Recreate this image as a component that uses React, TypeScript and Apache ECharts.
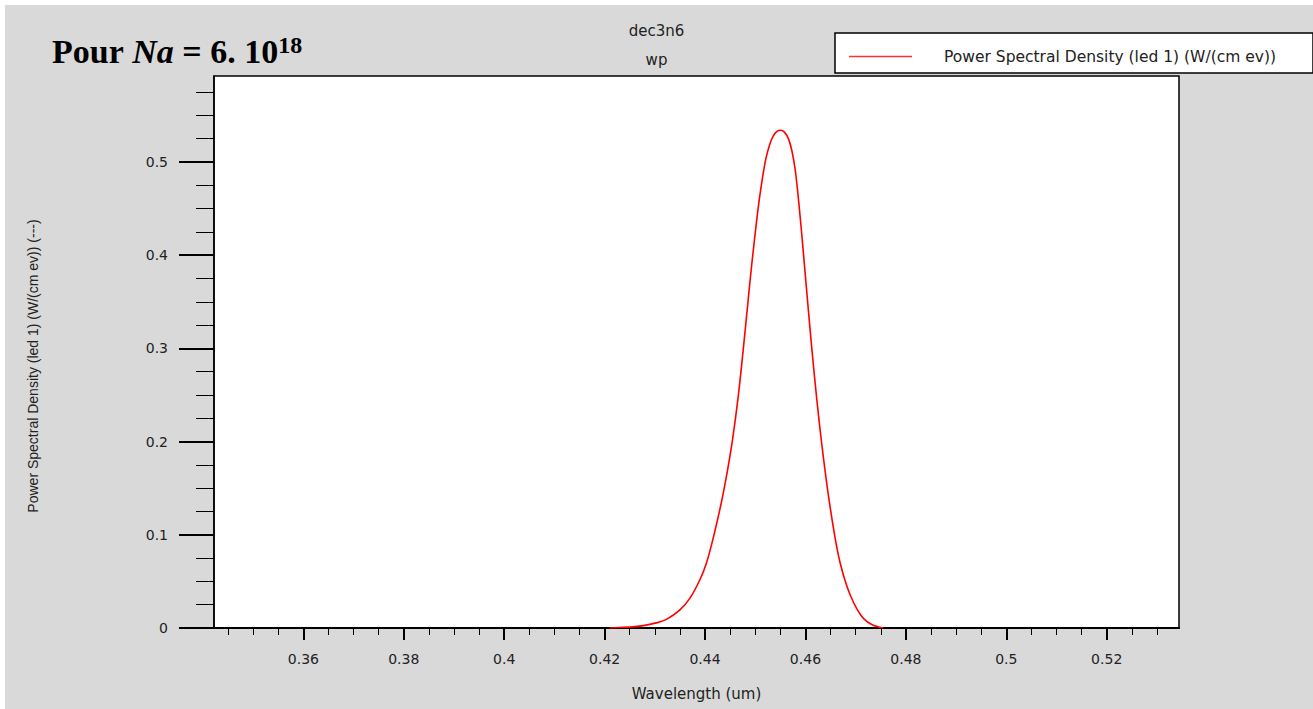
import { useEffect, useRef } from 'react';
import * as echarts from 'echarts';

const wavelength = [
  0.421, 0.423, 0.4257, 0.428, 0.4303, 0.4323, 0.435, 0.437, 0.439, 0.4403,
  0.4417, 0.4433, 0.4445, 0.4455, 0.4466, 0.4475, 0.4485, 0.4493, 0.4505, 0.4513,
  0.4521, 0.4529, 0.4536, 0.4544, 0.4551, 0.4558, 0.4566, 0.4573, 0.458, 0.4587,
  0.4595, 0.4604, 0.4613, 0.4623, 0.4633, 0.4645, 0.4658, 0.4669, 0.4683, 0.4697,
  0.471, 0.4722, 0.4735, 0.475, 0.4755,
];
const psd = [
  0, 0.0005, 0.0012, 0.0028, 0.0055, 0.0092, 0.0195, 0.032, 0.052, 0.07,
  0.098, 0.136, 0.17, 0.203, 0.248, 0.293, 0.347, 0.39, 0.447, 0.478,
  0.503, 0.519, 0.528, 0.533, 0.534, 0.532, 0.525, 0.512, 0.49, 0.455,
  0.408, 0.352, 0.298, 0.243, 0.195, 0.145, 0.1, 0.07, 0.044, 0.026,
  0.014, 0.007, 0.003, 0.0005, 0,
];

const xMajorTicks = [0.36, 0.38, 0.4, 0.42, 0.44, 0.46, 0.48, 0.5, 0.52];
const xMinorTicks = [
  0.345, 0.35, 0.355, 0.365, 0.37, 0.375, 0.385, 0.39, 0.395, 0.405, 0.41, 0.415,
  0.425, 0.43, 0.435, 0.445, 0.45, 0.455, 0.465, 0.47, 0.475, 0.485, 0.49, 0.495,
  0.505, 0.51, 0.515, 0.525, 0.53,
];
const yMajorTicks = [0, 0.1, 0.2, 0.3, 0.4, 0.5];
const yMinorTicks = [
  0.025, 0.05, 0.075, 0.125, 0.15, 0.175, 0.225, 0.25, 0.275, 0.325, 0.35, 0.375,
  0.425, 0.45, 0.475, 0.525, 0.55, 0.575,
];

const seriesName = 'Power Spectral Density (led 1) (W/(cm ev))';
const xName = 'Wavelength (um)';
const yName = 'Power Spectral Density (led 1) (W/(cm ev)) (---)';

const X_MIN = 0.3422;
const X_MAX = 0.5344;
const Y_MIN = 0;
const Y_MAX = 0.5922;

const tickFont = { fontFamily: 'DejaVu Sans', fontSize: 14, color: '#222' };

export default function App() {
  const ref = useRef<HTMLDivElement>(null);
  useEffect(() => {
    const chart = echarts.init(ref.current!, null, { renderer: 'svg' });
    const data = wavelength.map((w, i) => [w, psd[i]]);
    chart.setOption({
      animation: false,
      backgroundColor: '#ffffff',
      title: {
        text: 'dec3n6',
        subtext: 'wp',
        left: 'center',
        top: 21,
        padding: 0,
        itemGap: 9,
        textStyle: { fontFamily: 'DejaVu Sans', fontSize: 15, fontWeight: 'normal', color: '#222', lineHeight: 20 },
        subtextStyle: { fontFamily: 'DejaVu Sans', fontSize: 15, color: '#222', lineHeight: 20 },
      },
      graphic: [
        {
          type: 'rect',
          z: -10,
          silent: true,
          shape: { x: 5, y: 5, width: 1308, height: 704 },
          style: { fill: '#d9d9d9' },
        },
        {
          type: 'rect',
          z: 1,
          silent: true,
          shape: { x: 835, y: 33, width: 478, height: 40 },
          style: { fill: '#ffffff', stroke: '#000000', lineWidth: 1.5 },
        },
        {
          type: 'text',
          z: 5,
          x: 52,
          y: 33,
          style: {
            text: '{a|Pour }{b|Na}{a| = 6. 10}{c|18}',
            rich: {
              a: { fontFamily: 'Liberation Serif', fontWeight: 'bold', fontSize: 34, lineHeight: 37, fill: '#000' },
              b: { fontFamily: 'Liberation Serif', fontWeight: 'bold', fontStyle: 'italic', fontSize: 34, lineHeight: 37, fill: '#000' },
              c: { fontFamily: 'Liberation Serif', fontWeight: 'bold', fontSize: 24, lineHeight: 24, verticalAlign: 'top', fill: '#000' },
            },
          },
        },
        {
          type: 'text',
          z: 5,
          x: 33,
          y: 366,
          rotation: Math.PI / 2,
          style: {
            text: yName,
            fontFamily: 'Liberation Sans',
            fontSize: 14,
            fill: '#222',
            align: 'center',
            verticalAlign: 'middle',
          },
        },
      ],
      legend: {
        left: 849,
        top: 46,
        padding: 0,
        icon: 'rect',
        itemWidth: 63,
        itemHeight: 1.5,
        data: [seriesName],
        itemStyle: { color: '#ff3030' },
        textStyle: { fontFamily: 'DejaVu Sans', fontSize: 15.5, color: '#222', lineHeight: 18, padding: [3, 0, 0, 27] },
      },
      grid: {
        left: 214,
        top: 76,
        width: 965,
        height: 552,
        show: true,
        backgroundColor: '#ffffff',
        borderColor: '#000000',
        borderWidth: 1.5,
      },
      xAxis: [
        {
          type: 'value',
          position: 'bottom',
          min: X_MIN,
          max: X_MAX,
          name: xName,
          nameLocation: 'middle',
          nameGap: 58,
          nameTextStyle: { fontFamily: 'DejaVu Sans', fontSize: 15, color: '#222' },
          axisLine: { show: true, lineStyle: { color: '#000', width: 2 } },
          axisTick: { show: true, inside: false, length: 12, lineStyle: { color: '#000', width: 2 }, customValues: xMajorTicks },
          axisLabel: { ...tickFont, margin: 24, customValues: xMajorTicks, showMinLabel: true, showMaxLabel: true },
          splitLine: { show: false },
        },
        {
          type: 'value',
          position: 'bottom',
          min: X_MIN,
          max: X_MAX,
          axisLine: { show: false },
          axisTick: { show: true, inside: false, length: 7, lineStyle: { color: '#000', width: 1 }, customValues: xMinorTicks },
          axisLabel: { show: false },
          splitLine: { show: false },
        },
      ],
      yAxis: [
        {
          type: 'value',
          position: 'left',
          min: Y_MIN,
          max: Y_MAX,
          axisLine: { show: true, lineStyle: { color: '#000', width: 1.5 } },
          axisTick: { show: true, inside: false, length: 35, lineStyle: { color: '#000', width: 2 }, customValues: yMajorTicks },
          axisLabel: { ...tickFont, margin: 46, customValues: yMajorTicks },
          splitLine: { show: false },
        },
        {
          type: 'value',
          position: 'left',
          min: Y_MIN,
          max: Y_MAX,
          axisLine: { show: false },
          axisTick: { show: true, inside: false, length: 18, lineStyle: { color: '#000', width: 1 }, customValues: yMinorTicks },
          axisLabel: { show: false },
          splitLine: { show: false },
        },
      ],
      series: [
        {
          name: seriesName,
          type: 'line',
          xAxisIndex: 0,
          yAxisIndex: 0,
          data,
          symbol: 'none',
          smooth: 0.3,
          lineStyle: { color: '#ff0000', width: 1.6 },
          itemStyle: { color: '#ff0000' },
        },
      ],
    });
    return () => chart.dispose();
  }, []);
  return <div ref={ref} style={{ position: 'fixed', left: 0, top: 0, width: 1313, height: 709 }} />;
}
